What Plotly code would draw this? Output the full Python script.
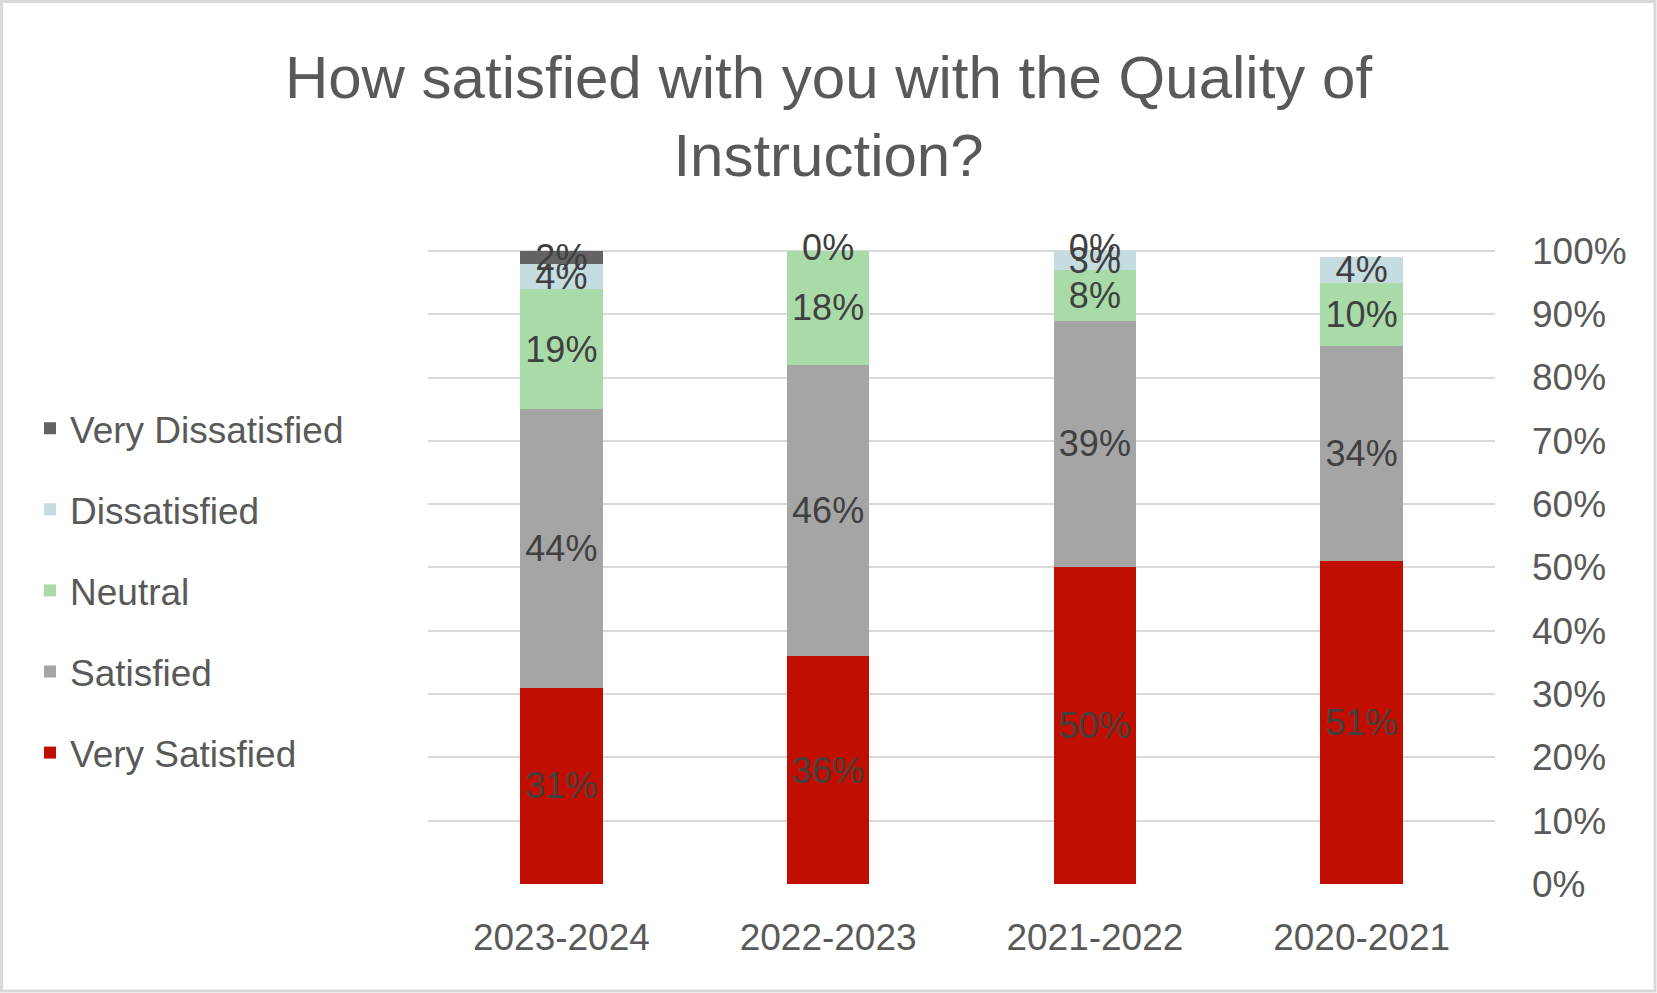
import plotly.graph_objects as go

years = ["2020-2021", "2021-2022", "2022-2023", "2023-2024"]
series = ["Very Satisfied", "Satisfied", "Neutral", "Dissatisfied", "Very Dissatisfied"]
very_satisfied = [51, 50, 36, 31]
satisfied = [34, 39, 46, 44]
neutral = [10, 8, 18, 19]
dissatisfied = [4, 3, 0, 4]
very_dissatisfied = [0, 0, 0, 2]
# which data labels are displayed in the reference
show_dissatisfied = [True, True, False, True]
show_very_dissatisfied = [False, True, True, True]
y_ticks = [0, 10, 20, 30, 40, 50, 60, 70, 80, 90, 100]

colors = ["#C00F00", "#A5A5A5", "#A9DBA9", "#C5DDE0", "#636363"]
values = [very_satisfied, satisfied, neutral, dissatisfied, very_dissatisfied]
shows = [[True] * 4, [True] * 4, [True] * 4, show_dissatisfied, show_very_dissatisfied]

FONT = "Liberation Sans"
LABEL = dict(family=FONT, size=36, color="#404040")

fig = go.Figure()
for i, (name, vals, col, sh) in enumerate(zip(series, values, colors, shows)):
    # zero-height segments get their label from the text trace below
    texts = [f"{v}%" if (s and v > 0) else "" for v, s in zip(vals, sh)]
    fig.add_trace(go.Bar(
        x=years, y=vals, name=name, marker=dict(color=col, line=dict(width=0)),
        text=texts, textposition="inside", textangle=0, constraintext="none",
        insidetextanchor="middle", insidetextfont=LABEL, textfont=LABEL,
        cliponaxis=False, width=0.31, legendgroup=name, legendrank=len(series) - i,
        hoverinfo="skip",
    ))

# labels of zero-valued top segments, centred at the top of each stack
totals = [sum(v[j] for v in values) for j in range(len(years))]
zero_labels = [f"{v}%" if (s and v == 0) else "" for v, s in zip(very_dissatisfied, show_very_dissatisfied)]
fig.add_trace(go.Scatter(
    x=years, y=totals, mode="text", text=zero_labels, textposition="middle center",
    textfont=LABEL, showlegend=False, hoverinfo="skip", cliponaxis=False,
))

W, H = 1657, 993
L, R, T, B = 428, 162, 249, 109
pw, ph = W - L - R, H - T - B
fig.add_shape(type="rect", xref="paper", yref="paper",
              x0=(1.5 - L) / pw, x1=(W - 2 - L) / pw,
              y0=(H - B - (H - 2)) / ph, y1=(H - B - 1.5) / ph,
              line=dict(color="#D9D9D9", width=3), fillcolor="rgba(0,0,0,0)", layer="below")

fig.update_layout(
    width=W, height=H,
    barmode="stack",
    bargap=0.69,
    paper_bgcolor="white", plot_bgcolor="white",
    margin=dict(l=L, r=R, t=T, b=B, autoexpand=False),
    title=dict(text="How satisfied with you with the Quality of<br>Instruction?",
               x=0.5, xref="container", xanchor="center",
               y=1 - 98 / H, yref="container", yanchor="middle",
               font=dict(family=FONT, size=60, color="#595959")),
    font=dict(family=FONT, color="#595959"),
    showlegend=True,
    legend=dict(traceorder="grouped", tracegroupgap=30,
                x=(30 - L) / pw, xanchor="left", y=0.462, yanchor="middle",
                font=dict(family=FONT, size=37, color="#595959"),
                itemwidth=30, bgcolor="rgba(0,0,0,0)"),
    xaxis=dict(autorange="reversed", tickfont=dict(family=FONT, size=37, color="#595959"),
               showgrid=False, showline=False, ticks="", ticklabelstandoff=28),
    yaxis=dict(side="right", range=[0, 100.3], tickvals=y_ticks,
               ticktext=[f"{t}%" for t in y_ticks],
               tickfont=dict(family=FONT, size=37, color="#595959"),
               showgrid=True, gridcolor="#D9D9D9", gridwidth=2,
               zeroline=False, showline=False, ticks="", ticklabelstandoff=36),
)

fig.write_html("out.html", config={"displayModeBar": False},
               post_script="document.body.style.margin='0px';")
